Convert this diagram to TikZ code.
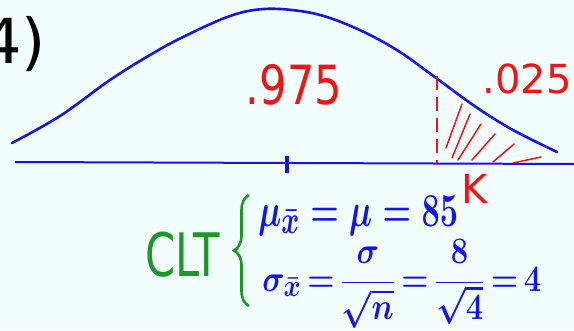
\documentclass[tikz,border=0pt]{standalone}
\usepackage{fontspec}
\setmainfont{DejaVu Sans}
\usepackage{tikz}
\usetikzlibrary{decorations.pathreplacing, positioning}

\definecolor{paper}{HTML}{F1FEFD}
\definecolor{inkblue}{HTML}{1414E6}
\definecolor{inkred}{HTML}{F21414}
\definecolor{inkgreen}{HTML}{1E9628}

\begin{document}
\begin{tikzpicture}[
        x=1pt, y=-1pt,
        bell/.style={
            draw=inkblue, line width=2.6pt, line cap=round
        },
        axisline/.style={
            draw=inkblue, line width=2pt
        },
        hatch/.style={
            draw=inkred, line width=1.5pt, line cap=round
        },
        cutline/.style={
            draw=inkred, line width=2.2pt, dash pattern=on 14pt off 7pt
        },
        redlabel/.style={
            text=inkred, inner sep=0pt
        },
        formula/.style={
            text=inkblue, inner sep=0pt,
            font=\Huge\boldmath
        }
    ]
        % Background
        \fill[paper] (0,0) rectangle (574,330);
        \useasboundingbox (0,0) rectangle (574,330);

        % Bell curve and axis
        \draw [bell] plot [smooth, tension=0.6] coordinates {
            (12,143) (60,116) (110,80) (150,55) (183,37) (230,16) (264,9)
            (300,11) (330,18) (366,33) (400,52) (432,75) (476,107)
            (513,130) (557,152)};
        \coordinate (axisL) at (15,162);
        \coordinate (axisR) at (574,164);
        \draw [axisline] (axisL) -- (axisR);
        \coordinate (tickT) at (287,156);
        \coordinate (tickB) at (287,173);
        \draw [draw=inkblue, line width=4pt] (tickT) -- (tickB);

        % Critical value and tail
        \coordinate (cutT) at (437,76);
        \coordinate (cutB) at (437,163);
        \draw [cutline] (cutT) -- (cutB);
        \draw [hatch] (462,104) -- (446,148);
        \draw [hatch] (470,114) -- (452,158);
        \draw [hatch] (481,124) -- (458,160);
        \draw [hatch] (495,134) -- (472,160);
        \draw [hatch] (514,144) -- (493,162);
        \draw [hatch] (541,157) -- (513,163);

        % Labels
        \node (part) [inner sep=0pt, font=\fontsize{62}{66}\selectfont] at (14,44) {4)};
        \node (body) [redlabel, xscale=0.8, font=\fontsize{54}{60}\selectfont] at (294,85) {.975};
        \node (tail) [redlabel, font=\fontsize{40}{46}\selectfont] at (527,79) {.025};
        \node (kval) [redlabel, font=\fontsize{40}{46}\selectfont] at (475,189) {K};

        % CLT block
        \node (clt) [text=inkgreen, inner sep=0pt, xscale=0.72, font=\fontsize{60}{64}\selectfont] at (183,255) {CLT};
        \node (mean) [formula, anchor=base west, xscale=1.31, yscale=1.9] at (258,226) {$\mu_{\bar x} = \mu = 85$};
        \node (sdev) [formula, anchor=north west, xscale=1.25, yscale=1.5] at (262,239)
            {\thickmuskip=3mu $\displaystyle\sigma_{\bar x} = \frac{\sigma}{\sqrt n} = \frac{8}{\sqrt 4} = 4$};
        \coordinate (braceB) at (249,306);
        \coordinate (braceT) at (249,195);
        \draw [draw=inkgreen, line width=2.6pt, decorate, decoration={brace, amplitude=15pt}]
            (braceB) -- (braceT);
\end{tikzpicture}
\end{document}
